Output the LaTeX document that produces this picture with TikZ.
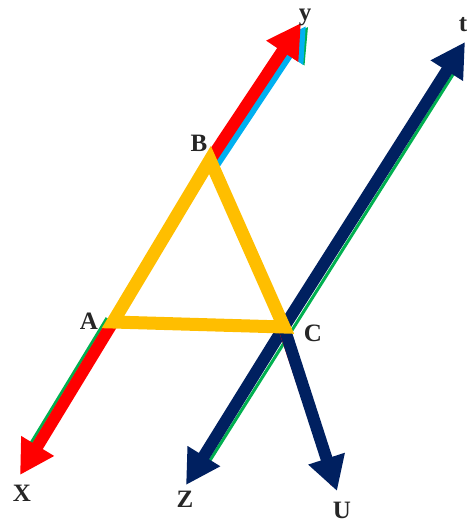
\documentclass[tikz,border=0pt]{standalone}
\usepackage{fontspec}
\setmainfont{Liberation Serif}
\usetikzlibrary{arrows.meta}

\begin{document}
\begin{tikzpicture}[x=1pt,y=-1pt,
  lbl/.style={font=\fontsize{25}{25}\selectfont\bfseries,text=black!85,inner sep=0pt},
  ray/.style={line width=12pt,-{Triangle[length=34pt,width=36pt]}},
  edge/.style={line width=3pt},
  tri/.style={draw=gold,line width=13pt,miter limit=10}]
\definecolor{gold}{RGB}{255,190,0}
\definecolor{navy}{RGB}{0,32,96}\definecolor{sky}{RGB}{0,176,240}
\definecolor{leaf}{RGB}{0,176,80}
\useasboundingbox (0,0) rectangle (474,526);
% ===== points =====
\coordinate (A) at (113,322);
\coordinate (B) at (210,160);
\coordinate (C) at (284,327);
\coordinate (x) at (20,475);
\coordinate (y) at (301,23);
\coordinate (z) at (186,485);
\coordinate (t) at (465,42);
\coordinate (u) at (337,491);
% ===== line XY (red, with shadows) =====
\draw[edge,leaf,shorten >=30pt] ([shift={(-6,-4)}]A) -- ([shift={(-6,-4)}]x);
\draw[ray,leaf,line width=3pt] ([shift={(7,4)}]B) -- ([shift={(7,4)}]y);
\draw[ray,sky] ([shift={(5,3)}]B) -- ([shift={(5,3)}]y);
\draw[ray,red] (B) -- (y);
\draw[ray,red] (A) -- (x);
% ===== line Zt (navy) =====
\draw[edge,leaf,shorten <=25pt,shorten >=30pt] ([shift={(6,4)}]z) -- ([shift={(6,4)}]t);
\draw[ray,navy] (C) -- (t);
\draw[ray,navy] (C) -- (z);
% ===== line CU =====
\draw[edge,red] ([shift={(-5,0)}]C) -- ([shift={(-5,-6)}]u);
\draw[ray,navy] (C) -- (u);
% ===== triangle ABC =====
\draw[tri] (A) -- (B) -- (C) -- cycle;
% ===== labels =====
\node[lbl] (ly) at (305,17) {y};
\node[lbl] (lt) at (463,25) {t};
\node[lbl] (lB) at (199,143) {B};
\node[lbl] (lA) at (89,321) {A};
\node[lbl] (lC) at (313,333) {C};
\node[lbl] (lX) at (22,493) {X};
\node[lbl] (lZ) at (185,499) {Z};
\node[lbl] (lU) at (342,510) {U};
\end{tikzpicture}
\end{document}
